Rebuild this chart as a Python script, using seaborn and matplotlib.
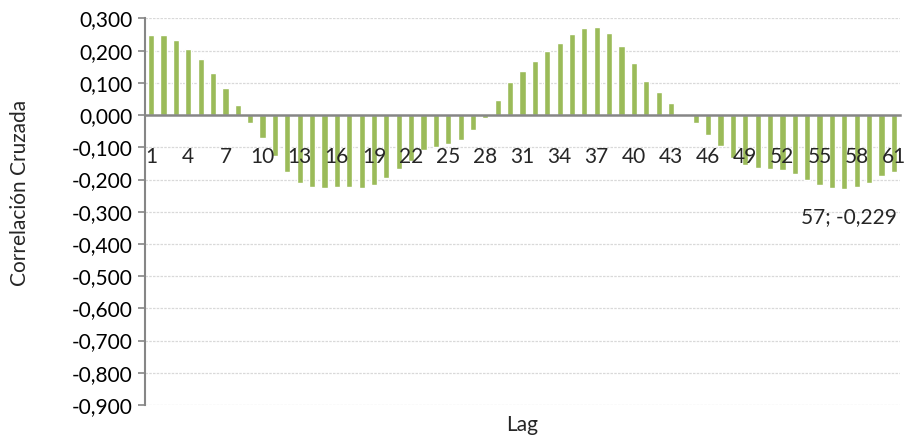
import matplotlib
matplotlib.use("Agg")
import matplotlib.pyplot as plt
import seaborn as sns
import pandas as pd

lags = list(range(1, 62))
values = [
    0.248, 0.248, 0.232, 0.204, 0.173, 0.132, 0.085, 0.032, -0.023, -0.070,
    -0.126, -0.176, -0.210, -0.223, -0.226, -0.223, -0.223, -0.226, -0.217, -0.195,
    -0.167, -0.141, -0.109, -0.098, -0.091, -0.076, -0.047, -0.009, 0.048, 0.102,
    0.138, 0.167, 0.199, 0.224, 0.251, 0.270, 0.273, 0.254, 0.214, 0.161,
    0.107, 0.071, 0.038, 0.004, -0.026, -0.061, -0.095, -0.132, -0.156, -0.164,
    -0.167, -0.170, -0.182, -0.201, -0.217, -0.227, -0.229, -0.224, -0.210, -0.189,
    -0.176,
]
y_ticks = [0.3, 0.2, 0.1, 0.0, -0.1, -0.2, -0.3, -0.4, -0.5, -0.6, -0.7, -0.8, -0.9]
x_label_lags = list(range(1, 62, 3))
annot_lag = 57
annot_value = -0.229

sns.set_style("white")
plt.rcParams['font.family'] = ['Lato', 'DejaVu Sans']
FS = 15

df = pd.DataFrame({"Lag": lags, "Corr": values})

fig = plt.figure(figsize=(9.08, 4.44), dpi=100)
ax = fig.add_axes([145/908, 1 - 405/444, (900 - 145)/908, (405 - 18.5)/444])

sns.barplot(data=df, x="Lag", y="Corr", color="#9BBB59", saturation=1,
            width=0.5, ax=ax, zorder=2)

ax.set_ylim(-0.9, 0.3)
ax.set_xlim(-0.5, len(lags) - 0.5)

for s in ["top", "right"]:
    ax.spines[s].set_visible(False)
ax.spines["bottom"].set_position(("data", 0))
ax.spines["bottom"].set_color("#868686")
ax.spines["bottom"].set_linewidth(1.8)
ax.spines["bottom"].set_zorder(4)
ax.spines["left"].set_color("#868686")
ax.spines["left"].set_linewidth(1.5)

def fmt(v):
    s = f"{abs(v):.3f}".replace(".", ",")
    return ("-" + s) if v < -1e-9 else s

ax.set_yticks(y_ticks)
ax.set_yticklabels([fmt(v) for v in y_ticks], fontsize=FS, color="#000000")
for v in y_ticks:
    if abs(v) > 1e-9:
        ax.axhline(v, color="#d9d9d9", lw=0.9, ls=(0, (2, 1)), zorder=1)

pos = [lags.index(l) for l in x_label_lags]
ax.set_xticks(pos)
ax.set_xticklabels([str(l) for l in x_label_lags], fontsize=FS)
ax.tick_params(axis='x', length=0, pad=23, labelsize=FS)
ax.tick_params(axis='y', length=5, width=1.2, color="#868686", pad=4, left=True,
               labelsize=FS)
ax.xaxis.set_zorder(5)

ax.set_xlabel("")
ax.set_ylabel("")
fig.text(20 / 908, 1 - 193 / 444, "Correlación Cruzada", fontsize=FS,
         rotation=90, ha="center", va="center")
fig.text((145 + 900) / 2 / 908, 1 - 425 / 444, "Lag", fontsize=FS,
         ha="center", va="center")

ax.text(60.25, -0.316, f"{annot_lag}; {fmt(annot_value)}", fontsize=FS,
        ha="right", va="center")

fig.savefig("out.png", dpi=100)
